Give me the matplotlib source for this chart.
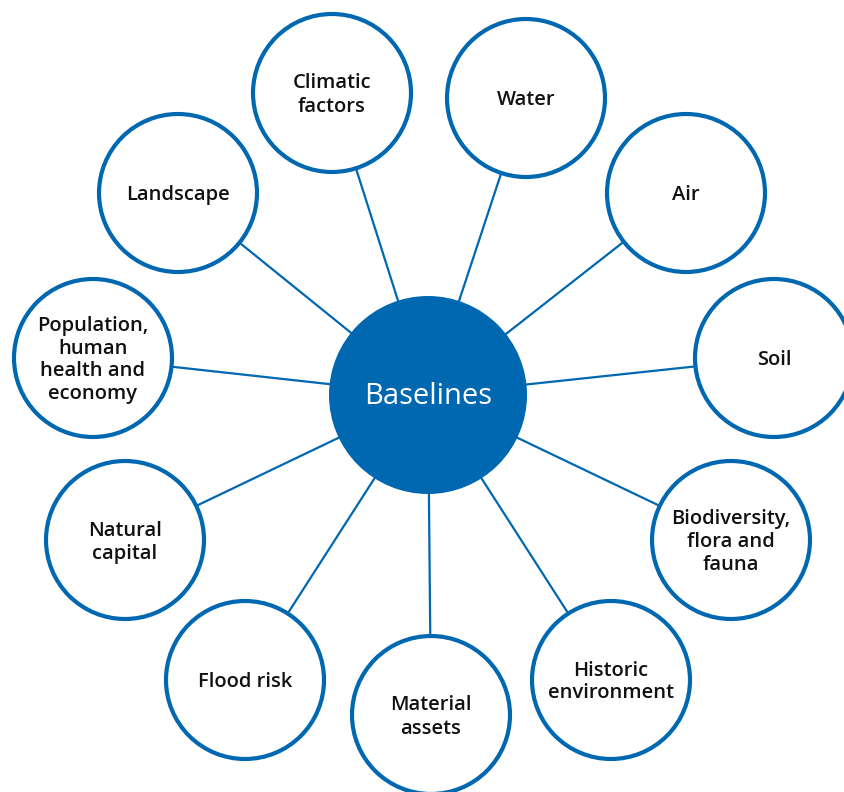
import matplotlib.pyplot as plt
from matplotlib.patches import Circle

center_label = "Baselines"
labels = [
    "Climatic\nfactors", "Water", "Air", "Soil",
    "Biodiversity,\nflora and\nfauna", "Historic\nenvironment",
    "Material\nassets", "Flood risk", "Natural\ncapital",
    "Population,\nhuman\nhealth and\neconomy", "Landscape",
]
# node centres in pixel coordinates of the original layout
node_x = [332, 526, 686, 774, 731, 611, 431, 245, 125, 93, 178]
node_y = [93, 98, 193, 358, 540, 680, 715, 680, 540, 358, 193]
hub = (428, 395)

BLUE = "#0067b1"
plt.rcParams["font.family"] = ["Open Sans", "DejaVu Sans"]

fig = plt.figure(figsize=(8.45, 7.92), dpi=100)
ax = fig.add_axes([0, 0, 1, 1])
ax.set_xlim(0, 845)
ax.set_ylim(792, 0)
ax.set_aspect("equal")
ax.axis("off")

for x, y, lab in zip(node_x, node_y, labels):
    ax.plot([hub[0], x], [hub[1], y], color=BLUE, lw=1.6, zorder=1)
    ax.add_patch(Circle((x, y), 79, facecolor="white", edgecolor=BLUE,
                        lw=3, zorder=2))
    ax.text(x, y + 2, lab, ha="center", va="center", fontsize=14.5,
            fontweight="semibold", color="#111111", linespacing=1.2,
            zorder=3)

ax.add_patch(Circle(hub, 99, facecolor=BLUE, edgecolor="none", zorder=4))
ax.text(hub[0], hub[1] + 1, center_label, ha="center", va="center",
        fontsize=21, color="white", fontweight="medium", zorder=5)

fig.savefig("out.png", dpi=100)
